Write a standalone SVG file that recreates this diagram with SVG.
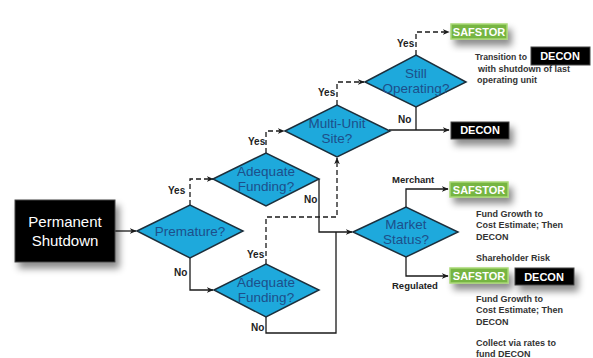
<svg xmlns="http://www.w3.org/2000/svg" width="593" height="358" viewBox="0 0 593 358">
<defs>
<filter id="sh" x="-30%" y="-30%" width="180%" height="220%">
<feDropShadow dx="4" dy="6" stdDeviation="3.5" flood-color="#000" flood-opacity="0.45"/>
</filter>
<marker id="ah" viewBox="0 0 10 10" refX="9" refY="5" markerWidth="7" markerHeight="7" markerUnits="userSpaceOnUse" orient="auto">
<path d="M0,1 L10,5 L0,9 L3,5 Z" fill="#1a1a1a"/>
</marker>
</defs>
<style>
.dia{fill:#1ea9dc;stroke:#1c2f3c;stroke-width:1.5}
.dt{font-family:"Liberation Sans",Arial,sans-serif;font-size:13.5px;fill:#1d4f8a;text-anchor:middle}
.lb{font-family:"Liberation Sans",Arial,sans-serif;font-size:10px;font-weight:bold;fill:#222}
.lb2{font-family:"Liberation Sans",Arial,sans-serif;font-size:9.5px;font-weight:bold;fill:#222}
.note{font-family:"Liberation Sans",Arial,sans-serif;font-size:9px;font-weight:bold;fill:#333}
.blk{fill:#000;stroke:#444;stroke-width:1}
.grn{fill:#76b543;stroke:#a8d874;stroke-width:1.5}
.bt{font-family:"Liberation Sans",Arial,sans-serif;font-size:11px;font-weight:bold;fill:#fff;text-anchor:middle}
.big{font-family:"Liberation Sans",Arial,sans-serif;font-size:15px;fill:#fff;text-anchor:middle}
.ln{fill:none;stroke:#1a1a1a;stroke-width:1.3}
.ds{fill:none;stroke:#1a1a1a;stroke-width:1.3;stroke-dasharray:5,3}
</style>

<g id="connectors">
<path class="ln" d="M115,231 H136" marker-end="url(#ah)"/>
<path class="ds" d="M190,205 V179 H213" marker-end="url(#ah)"/>
<path class="ln" d="M190,258 V290 H213" marker-end="url(#ah)"/>
<path class="ds" d="M266,153 V131 H284" marker-end="url(#ah)"/>
<path class="ds" d="M266,264 V217 H337 V158" marker-end="url(#ah)"/>
<path class="ln" d="M319,179 V232 H352" marker-end="url(#ah)"/>
<path class="ln" d="M266,317 V333 H336 V232"/>
<path class="ds" d="M337,105 V82 H364" marker-end="url(#ah)"/>
<path class="ds" d="M416,55 V32 H449" marker-end="url(#ah)"/>
<path class="ln" d="M389,130 H449" marker-end="url(#ah)"/>
<path class="ln" d="M416,107 V130"/>
<path class="ln" d="M406,207 V189 H448" marker-end="url(#ah)"/>
<path class="ln" d="M406,257 V276 H448" marker-end="url(#ah)"/>
</g>

<g id="lbls">
<text class="lb" x="168" y="194">Yes</text>
<text class="lb" x="174" y="276">No</text>
<text class="lb" x="248" y="145">Yes</text>
<text class="lb" x="304" y="203">No</text>
<text class="lb" x="247" y="258">Yes</text>
<text class="lb" x="251" y="331">No</text>
<text class="lb" x="318" y="96">Yes</text>
<text class="lb" x="397" y="47">Yes</text>
<text class="lb" x="398" y="123">No</text>
<text class="lb2" x="392" y="183">Merchant</text>
<text class="lb2" x="392" y="289">Regulated</text>
</g>

<g id="shutdown">
<rect x="15" y="200" width="100" height="62" class="blk" filter="url(#sh)"/>
<text x="65" y="227" class="big">Permanent</text>
<text x="65" y="246" class="big">Shutdown</text>
</g>

<g id="premature">
<polygon class="dia" points="137,231 190,205 243,231 190,258"/>
<text class="dt" x="190" y="236">Premature?</text>
</g>

<g id="funding-upper">
<polygon class="dia" points="213,179 266,153 319,179 266,206"/>
<text class="dt" x="266" y="176">Adequate</text>
<text class="dt" x="266" y="191">Funding?</text>
</g>

<g id="funding-lower">
<polygon class="dia" points="214,290 266,264 319,290 266,317"/>
<text class="dt" x="266" y="287">Adequate</text>
<text class="dt" x="266" y="302">Funding?</text>
</g>

<g id="multiunit">
<polygon class="dia" points="285,131 337,105 390,131 337,157"/>
<text class="dt" x="337" y="128">Multi-Unit</text>
<text class="dt" x="337" y="143">Site?</text>
</g>

<g id="still">
<polygon class="dia" points="365,82 416,55 466,82 416,107"/>
<text class="dt" x="416" y="78">Still</text>
<text class="dt" x="416" y="93">Operating?</text>
</g>

<g id="market">
<polygon class="dia" points="353,232 406,207 458,232 406,257"/>
<text class="dt" x="406" y="229">Market</text>
<text class="dt" x="406" y="244">Status?</text>
</g>

<g id="safstor-top">
<rect x="451" y="24" width="56" height="15" class="grn" filter="url(#sh)"/>
<text class="bt" x="479" y="36">SAFSTOR</text>
</g>

<g id="transition">
<text class="note" x="475" y="60" textLength="52" lengthAdjust="spacingAndGlyphs">Transition to</text>
<rect x="531" y="47" width="59" height="18" class="blk"/>
<text class="bt" x="560" y="60">DECON</text>
<text class="note" x="478" y="72">with shutdown of last</text>
<text class="note" x="477" y="83">operating unit</text>
</g>

<g id="decon-mid">
<rect x="451" y="122" width="58" height="17" class="blk" filter="url(#sh)"/>
<text class="bt" x="480" y="134">DECON</text>
</g>

<g id="safstor-merchant">
<rect x="450" y="182" width="58" height="15" class="grn" filter="url(#sh)"/>
<text class="bt" x="479" y="194">SAFSTOR</text>
</g>

<g id="merchant-note">
<text class="note" x="476" y="217">Fund Growth to</text>
<text class="note" x="476" y="228">Cost Estimate; Then</text>
<text class="note" x="476" y="240">DECON</text>
<text class="note" x="476" y="261">Shareholder Risk</text>
</g>

<g id="safstor-reg">
<rect x="450" y="268" width="58" height="15" class="grn" filter="url(#sh)"/>
<text class="bt" x="479" y="280">SAFSTOR</text>
</g>

<g id="decon-reg">
<rect x="515" y="268" width="59" height="17" class="blk" filter="url(#sh)"/>
<text class="bt" x="544" y="281">DECON</text>
</g>

<g id="regulated-note">
<text class="note" x="476" y="302">Fund Growth to</text>
<text class="note" x="476" y="313">Cost Estimate; Then</text>
<text class="note" x="476" y="325">DECON</text>
<text class="note" x="476" y="346">Collect via rates to</text>
<text class="note" x="476" y="357">fund DECON</text>
</g>
</svg>
